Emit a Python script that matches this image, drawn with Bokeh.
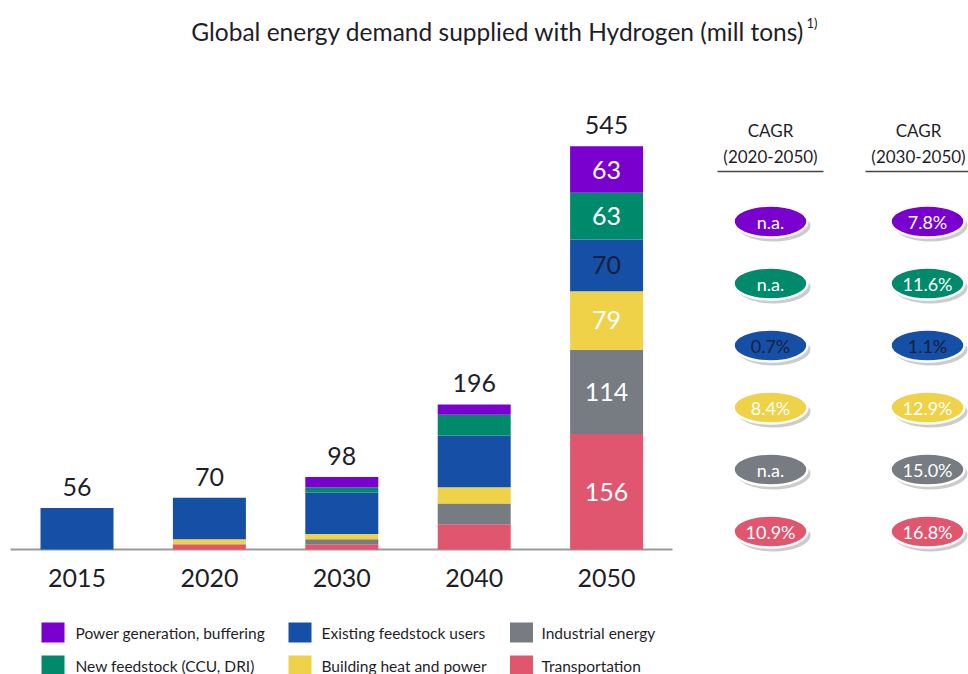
from bokeh.plotting import figure
from bokeh.models import ColumnDataSource, Range1d, Label
from bokeh.core.properties import value
from bokeh.embed import file_html
from bokeh.resources import INLINE

# ---------------- data ----------------
years = ["2015", "2020", "2030", "2040", "2050"]
series = ["Transportation", "Industrial energy", "Building heat and power",
          "Existing feedstock users", "New feedstock (CCU, DRI)", "Power generation, buffering"]
transportation = [0, 7, 7, 34, 156]
industrial = [0, 0, 7, 28, 114]
building = [0, 7, 7, 22, 79]
existing = [56, 56, 56, 70, 70]
new_feedstock = [0, 0, 7, 28, 63]
power = [0, 0, 14, 14, 63]
totals = [56, 70, 98, 196, 545]
cagr_2020_2050 = ["10.9%", "n.a.", "8.4%", "0.7%", "n.a.", "n.a."]   # same order as series
cagr_2030_2050 = ["16.8%", "15.0%", "12.9%", "1.1%", "11.6%", "7.8%"]
colors = ["#E0566F", "#767C82", "#EFD247", "#1550A6", "#008A6C", "#7A00D0"]
cagr_headers = ["(2020-2050)", "(2030-2050)"]

FONT = "Lato"
DARK = "#1e1e28"
NAVY = "#14213d"

# ---------------- pixel <-> data helpers ----------------
W, H = 968, 674
X0, SX = 76.5, 132.4
BASE, SY = 549.0, (549.0 - 145.7) / 545.0


def xd(px):
    return (px - X0) / SX


def yd(py):
    return (BASE - py) / SY


p = figure(width=W, height=H, x_range=Range1d(xd(0), xd(W)), y_range=Range1d(yd(H), yd(0)),
           output_backend="svg", toolbar_location=None, min_border=0,
           x_axis_location=None, y_axis_location=None, outline_line_color=None,
           background_fill_color="white", border_fill_color="white")
p.grid.visible = False

# baseline
p.segment(x0=[xd(10)], y0=[0], x1=[xd(672)], y1=[0], line_color="#9a9a9a", line_width=2)

# stacked bars
xs = list(range(len(years)))
data = dict(x=xs)
vals = [transportation, industrial, building, existing, new_feedstock, power]
for name, v in zip(series, vals):
    data[name] = v
src = ColumnDataSource(data)
p.vbar_stack(series, x="x", width=73 / SX, color=colors, line_color=None, source=src)

# totals above bars
p.text(x=xs, y=totals, text=[str(t) for t in totals], text_font=value(FONT),
       text_font_size="25px", text_color=DARK, text_align="center",
       text_baseline="middle", y_offset=-21)

# year labels
p.text(x=xs, y=[0] * len(xs), text=years, text_font=value(FONT),
       text_font_size="25px", text_color=DARK, text_align="center",
       text_baseline="middle", y_offset=28)

# segment labels for 2050
last = len(years) - 1
cum = 0
seg_y, seg_t, seg_c = [], [], []
for name, v in zip(series, vals):
    seg_y.append(cum + v[last] / 2)
    seg_t.append(str(v[last]))
    seg_c.append(NAVY if name == "Existing feedstock users" else "white")
    cum += v[last]
p.text(x=[last] * len(seg_y), y=seg_y, text=seg_t, text_color=seg_c,
       text_font=value(FONT), text_font_size="25px", text_align="center",
       text_baseline="middle")

# CAGR columns
col_px = [770, 927]
hdr_px = [770, 918]
row_py = [221 + 62 * i for i in range(len(series))]  # top row = last series
rows_series = list(reversed(range(len(series))))
for cx, hx, cagr, hdr in zip(col_px, hdr_px, [cagr_2020_2050, cagr_2030_2050], cagr_headers):
    p.add_layout(Label(x=hx, y=H - 130, x_units="screen", y_units="screen", text="CAGR",
                       text_font=FONT, text_font_size="17px", text_color=DARK,
                       text_align="center", text_baseline="middle"))
    p.add_layout(Label(x=hx, y=H - 156, x_units="screen", y_units="screen", text=hdr,
                       text_font=FONT, text_font_size="17px", text_color=DARK,
                       text_align="center", text_baseline="middle"))
    p.segment(x0=[xd(hx - 53)], y0=[yd(171)], x1=[xd(hx + 53)], y1=[yd(171)],
              line_color="#444444", line_width=1.5)
    ex = [xd(cx)] * len(series)
    ey = [yd(py) for py in row_py]
    ecol = [colors[i] for i in rows_series]
    etxt = [cagr[i] for i in rows_series]
    etc = [NAVY if series[i] == "Existing feedstock users" else "white" for i in rows_series]
    p.ellipse(x=[xd(cx + 3)] * len(series), y=[yd(py + 4) for py in row_py], width=74, height=32,
              width_units="screen", height_units="screen", fill_color="#9a9a9a",
              fill_alpha=0.5, line_color=None)
    p.ellipse(x=ex, y=ey, width=74, height=32, width_units="screen", height_units="screen",
              fill_color=ecol, line_color="white", line_width=2.5)
    p.text(x=ex, y=ey, text=etxt, text_color=etc, text_font=value(FONT),
           text_font_size="18px", text_align="center", text_baseline="middle")

# legend (manual, 3 columns x 2 rows)
legend_order = [["Power generation, buffering", "New feedstock (CCU, DRI)"],
                ["Existing feedstock users", "Building heat and power"],
                ["Industrial energy", "Transportation"]]
leg_sq_px = [52.5, 299.5, 521]
leg_tx_px = [75, 321, 541]
leg_row_py = [632, 665]
lx, ly, lc, tx, tt = [], [], [], [], []
for cidx, col in enumerate(legend_order):
    for ridx, name in enumerate(col):
        lx.append(xd(leg_sq_px[cidx]))
        ly.append(yd(leg_row_py[ridx]))
        lc.append(colors[series.index(name)])
        tx.append(xd(leg_tx_px[cidx]))
        tt.append(name)
p.rect(x=lx, y=ly, width=23, height=20, width_units="screen", height_units="screen",
       fill_color=lc, line_color=None)
p.text(x=tx, y=ly, text=tt, text_color=DARK, text_font=value(FONT), text_font_size="15.5px",
       text_align="left", text_baseline="middle")

# title
p.add_layout(Label(x=804, y=H - 31, x_units="screen", y_units="screen",
                   text="Global energy demand supplied with Hydrogen (mill tons)",
                   text_font=FONT, text_font_size="24.5px", text_color=DARK,
                   text_align="right", text_baseline="middle"))
p.add_layout(Label(x=806, y=H - 22, x_units="screen", y_units="screen", text="1)",
                   text_font=FONT, text_font_size="13px", text_color=DARK,
                   text_align="left", text_baseline="middle"))

open("out.html", "w").write(file_html(p, INLINE))
